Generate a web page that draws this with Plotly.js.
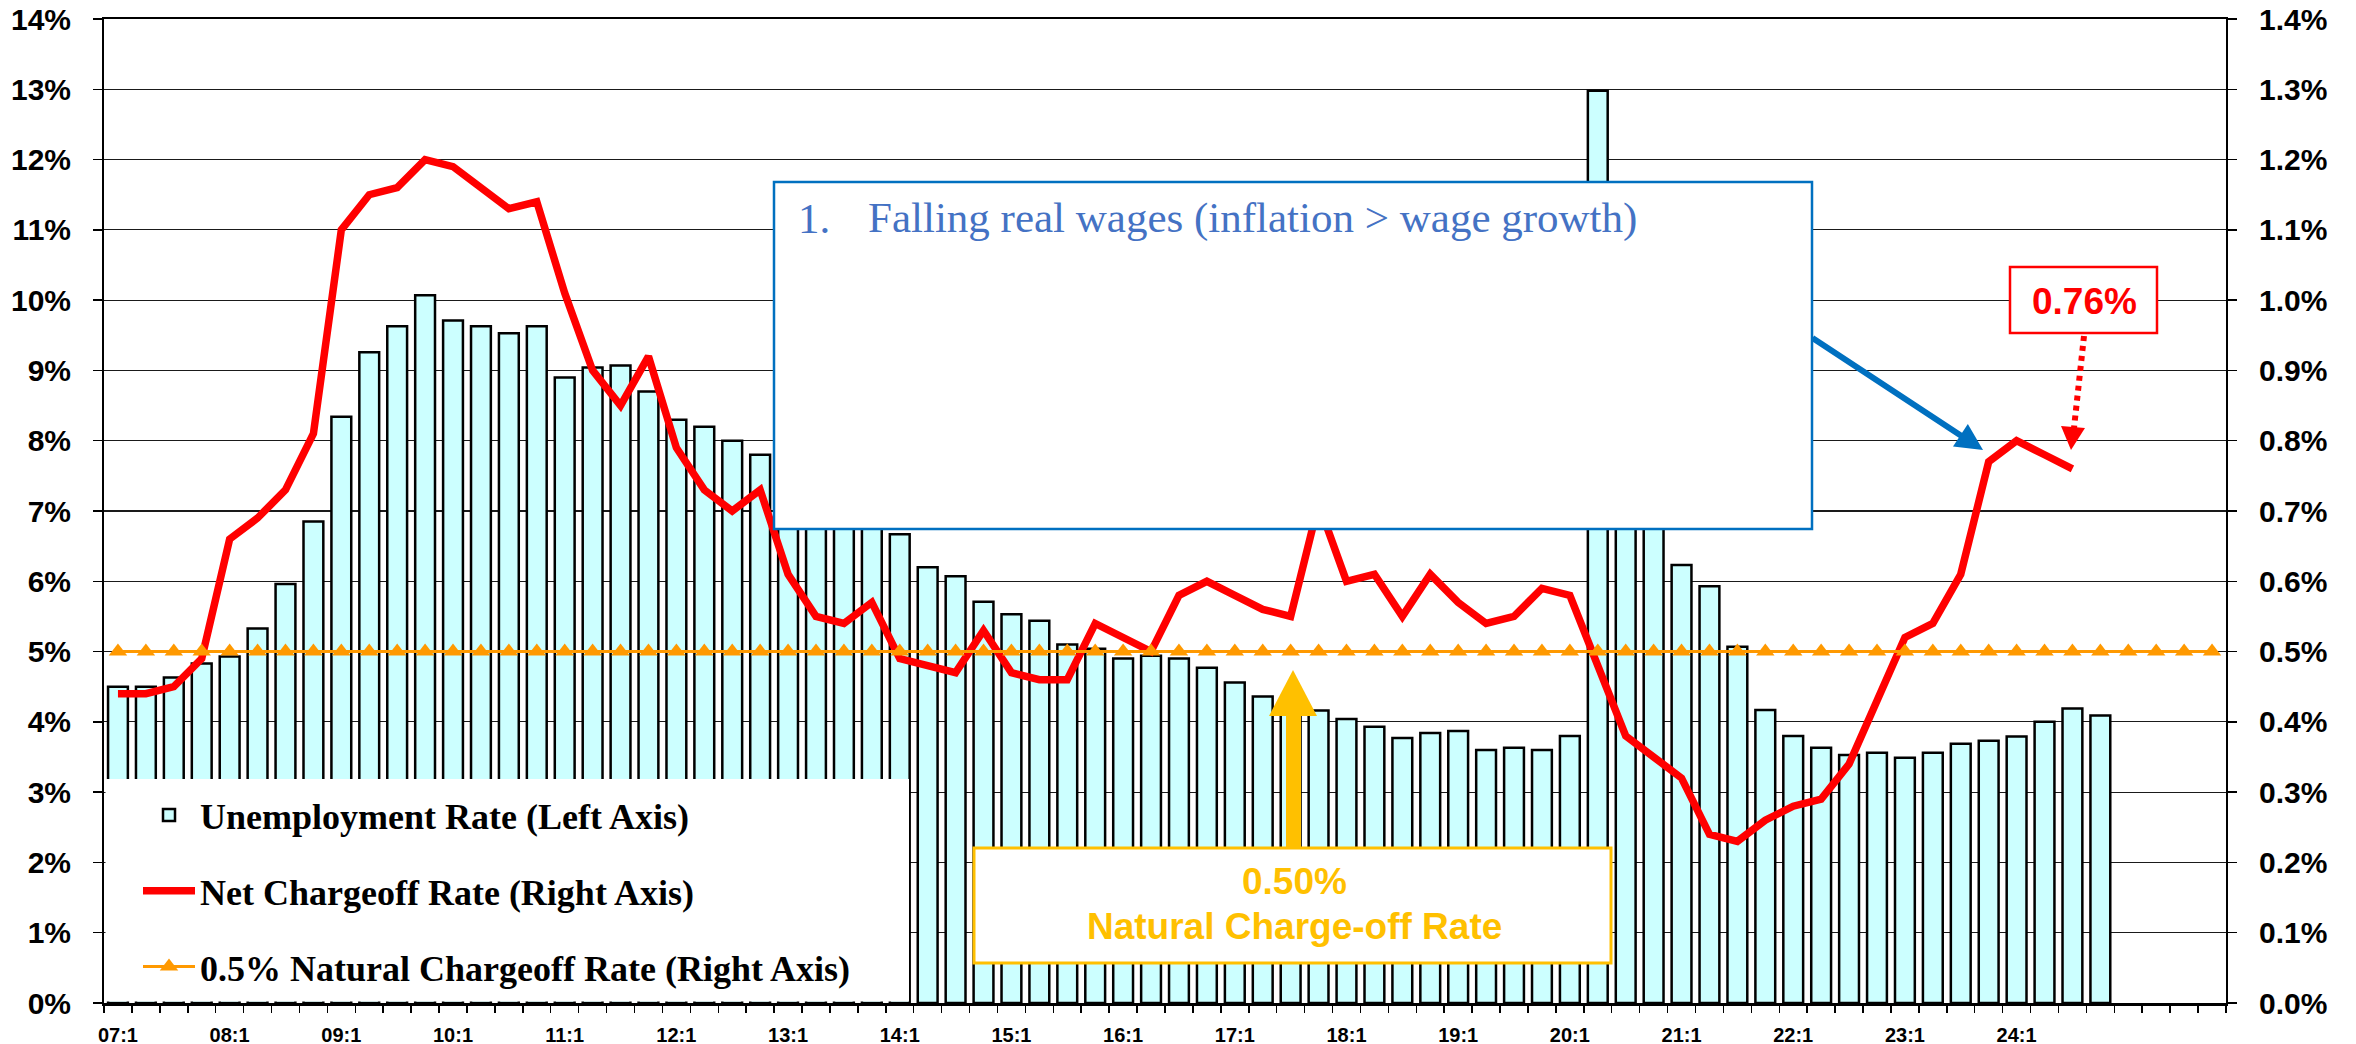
<!DOCTYPE html>
<html>
<head>
<meta charset="utf-8">
<script src="https://cdn.plot.ly/plotly-3.0.1.min.js"></script>
<style>
html, body { margin: 0; padding: 0; background: #ffffff; }
#chart { width: 2356px; height: 1044px; }
</style>
</head>
<body>
<div id="chart"></div>
<script>
// ---------------- DATA ----------------
const categories = [
  "07:1","07:2","07:3","07:4","08:1","08:2","08:3","08:4",
  "09:1","09:2","09:3","09:4","10:1","10:2","10:3","10:4",
  "11:1","11:2","11:3","11:4","12:1","12:2","12:3","12:4",
  "13:1","13:2","13:3","13:4","14:1","14:2","14:3","14:4",
  "15:1","15:2","15:3","15:4","16:1","16:2","16:3","16:4",
  "17:1","17:2","17:3","17:4","18:1","18:2","18:3","18:4",
  "19:1","19:2","19:3","19:4","20:1","20:2","20:3","20:4",
  "21:1","21:2","21:3","21:4","22:1","22:2","22:3","22:4",
  "23:1","23:2","23:3","23:4","24:1","24:2","24:3","24:4",
  "25:1","25:2","25:3","25:4"
];

const tickLabels = [
  "07:1","08:1","09:1","10:1","11:1","12:1","13:1","14:1","15:1",
  "16:1","17:1","18:1","19:1","20:1","21:1","22:1","23:1","24:1"
];

// Unemployment rate, % (left axis)
const unemploymentRate = [
  4.50, 4.50, 4.63, 4.83,
  4.93, 5.33, 5.96, 6.85,
  8.34, 9.26, 9.63, 10.07,
  9.71, 9.63, 9.53, 9.63,
  8.90, 9.04, 9.07, 8.70,
  8.30, 8.20, 8.00, 7.80,
  7.73, 7.53, 7.23, 6.93,
  6.67, 6.20, 6.07, 5.71,
  5.53, 5.44, 5.10, 5.04,
  4.90, 4.94, 4.90, 4.77,
  4.56, 4.36, 4.30, 4.16,
  4.04, 3.93, 3.77, 3.84,
  3.87, 3.60, 3.63, 3.60,
  3.80, 12.98, 8.80, 6.77,
  6.23, 5.93, 5.07, 4.17,
  3.80, 3.63, 3.53, 3.56,
  3.49, 3.56, 3.69, 3.73,
  3.79, 4.00, 4.19, 4.09,
  null, null, null, null
];

// Net charge-off rate, % (right axis)
const netChargeoffRate = [
  0.44, 0.44, 0.45, 0.49,
  0.66, 0.69, 0.73, 0.81,
  1.10, 1.15, 1.16, 1.20,
  1.19, 1.16, 1.13, 1.14,
  1.01, 0.90, 0.85, 0.92,
  0.79, 0.73, 0.70, 0.73,
  0.61, 0.55, 0.54, 0.57,
  0.49, 0.48, 0.47, 0.53,
  0.47, 0.46, 0.46, 0.54,
  0.52, 0.50, 0.58, 0.60,
  0.58, 0.56, 0.55, 0.71,
  0.60, 0.61, 0.55, 0.61,
  0.57, 0.54, 0.55, 0.59,
  0.58, 0.48, 0.38, 0.35,
  0.32, 0.24, 0.23, 0.26,
  0.28, 0.29, 0.34, 0.43,
  0.52, 0.54, 0.61, 0.77,
  0.80, 0.78, 0.76, null,
  null, null, null, null
];

// 0.5% natural charge-off rate, % (right axis)
const naturalChargeoffRate = [
  0.5, 0.5, 0.5, 0.5, 0.5, 0.5, 0.5, 0.5,
  0.5, 0.5, 0.5, 0.5, 0.5, 0.5, 0.5, 0.5,
  0.5, 0.5, 0.5, 0.5, 0.5, 0.5, 0.5, 0.5,
  0.5, 0.5, 0.5, 0.5, 0.5, 0.5, 0.5, 0.5,
  0.5, 0.5, 0.5, 0.5, 0.5, 0.5, 0.5, 0.5,
  0.5, 0.5, 0.5, 0.5, 0.5, 0.5, 0.5, 0.5,
  0.5, 0.5, 0.5, 0.5, 0.5, 0.5, 0.5, 0.5,
  0.5, 0.5, 0.5, 0.5, 0.5, 0.5, 0.5, 0.5,
  0.5, 0.5, 0.5, 0.5, 0.5, 0.5, 0.5, 0.5,
  0.5, 0.5, 0.5, 0.5
];

const seriesNames = [
  "Unemployment Rate (Left Axis)",
  "Net Chargeoff Rate (Right Axis)",
  "0.5% Natural Chargeoff Rate (Right Axis)"
];

const calloutTexts = {
  boxNumber: "1.",
  boxText: "Falling real wages (inflation &gt; wage growth)",
  latest: "0.76%",
  naturalValue: "0.50%",
  naturalLabel: "Natural Charge-off Rate"
};

// ---------------- LAYOUT HELPERS ----------------
const FONT_SANS = "Liberation Sans, Arial, sans-serif";
const FONT_SERIF = "Liberation Serif, Times New Roman, serif";
const W = 2356, H = 1044;
const M = { l: 104, r: 130, t: 19, b: 41 };
const PW = W - M.l - M.r;
const PH = H - M.t - M.b;
const px = (x) => (x - M.l) / PW;          // pixel x -> paper
const py = (y) => (H - M.b - y) / PH;      // pixel y -> paper

const xIdx = categories.map((c, i) => i);
const tickVals = tickLabels.map((t) => categories.indexOf(t));

const tickFont = { family: FONT_SANS, size: 30, weight: "bold", color: "#000000" };

const traces = [
  {
    type: "bar",
    name: seriesNames[0],
    x: xIdx,
    y: unemploymentRate,
    width: 0.71,
    marker: { color: "#CCFFFF", line: { color: "#000000", width: 2.5 } },
    legendgroup: "g1",
    hoverinfo: "skip"
  },
  {
    type: "scatter",
    mode: "lines",
    name: seriesNames[1],
    x: xIdx,
    y: netChargeoffRate,
    yaxis: "y2",
    line: { color: "#FF0000", width: 7.5 },
    legendgroup: "g2",
    hoverinfo: "skip"
  },
  {
    type: "scatter",
    mode: "lines+markers",
    name: seriesNames[2],
    x: xIdx,
    y: naturalChargeoffRate,
    yaxis: "y2",
    line: { color: "#FF9900", width: 3 },
    marker: { symbol: "triangle-up", size: 16, color: "#FF9900" },
    legendgroup: "g3",
    hoverinfo: "skip"
  }
];

const shapes = [
  // legend background
  { type: "rect", xref: "paper", yref: "paper", x0: px(105.5), x1: px(909), y0: py(1001.5), y1: py(779),
    fillcolor: "#ffffff", line: { width: 0 }, layer: "above" },
  // blue text box
  { type: "rect", xref: "paper", yref: "paper", x0: px(774), x1: px(1812), y0: py(529), y1: py(182),
    fillcolor: "#ffffff", line: { color: "#0070C0", width: 2.5 }, layer: "above" },
  // orange callout box
  { type: "rect", xref: "paper", yref: "paper", x0: px(974), x1: px(1611), y0: py(963), y1: py(848),
    fillcolor: "#ffffff", line: { color: "#FFC000", width: 3 }, layer: "above" },
  // orange arrow shaft
  { type: "rect", xref: "paper", yref: "paper", x0: px(1286), x1: px(1301), y0: py(848), y1: py(715),
    fillcolor: "#FFC000", line: { width: 0 }, layer: "above" },
  // orange arrow head
  { type: "path", xref: "paper", yref: "paper",
    path: `M ${px(1269)} ${py(716)} L ${px(1317)} ${py(716)} L ${px(1293)} ${py(670)} Z`,
    fillcolor: "#FFC000", line: { width: 0 }, layer: "above" },
  // red callout box
  { type: "rect", xref: "paper", yref: "paper", x0: px(2010), x1: px(2157), y0: py(333), y1: py(267),
    fillcolor: "#ffffff", line: { color: "#FF0000", width: 2.5 }, layer: "above" },
  // red dotted arrow shaft
  { type: "line", xref: "paper", yref: "paper", x0: px(2084), y0: py(336), x1: px(2074), y1: py(428),
    line: { color: "#FF0000", width: 6, dash: "5px,5px" }, layer: "above" },
  // red arrow head
  { type: "path", xref: "paper", yref: "paper",
    path: `M ${px(2061)} ${py(426)} L ${px(2085)} ${py(428)} L ${px(2071)} ${py(450)} Z`,
    fillcolor: "#FF0000", line: { width: 0 }, layer: "above" }
];

const annotations = [
  { xref: "paper", yref: "paper", x: px(796), y: py(218), xanchor: "left", yanchor: "middle",
    text: calloutTexts.boxNumber, showarrow: false,
    font: { family: FONT_SERIF, size: 43, color: "#4472C4" } },
  { xref: "paper", yref: "paper", x: px(866), y: py(218), xanchor: "left", yanchor: "middle",
    text: calloutTexts.boxText, showarrow: false,
    font: { family: FONT_SERIF, size: 43, color: "#4472C4" } },
  { xref: "paper", yref: "paper", x: px(1983), y: py(450), ax: -172, ay: -113,
    text: "", showarrow: true, arrowhead: 2, arrowsize: 0.9, arrowwidth: 6,
    arrowcolor: "#0070C0", standoff: 0 },
  { xref: "paper", yref: "paper", x: px(2084), y: py(301), xanchor: "center", yanchor: "middle",
    text: calloutTexts.latest, showarrow: false,
    font: { family: FONT_SANS, size: 37, weight: "bold", color: "#FF0000" } },
  { xref: "paper", yref: "paper", x: px(1294), y: py(881), xanchor: "center", yanchor: "middle",
    text: calloutTexts.naturalValue, showarrow: false,
    font: { family: FONT_SANS, size: 37, weight: "bold", color: "#FFC000" } },
  { xref: "paper", yref: "paper", x: px(1294), y: py(926), xanchor: "center", yanchor: "middle",
    text: calloutTexts.naturalLabel, showarrow: false,
    font: { family: FONT_SANS, size: 37, weight: "bold", color: "#FFC000" } }
];

const layout = {
  width: W,
  height: H,
  margin: M,
  paper_bgcolor: "#ffffff",
  plot_bgcolor: "#ffffff",
  showlegend: true,
  hovermode: false,
  legend: {
    x: px(138), y: py(785), xanchor: "left", yanchor: "top",
    bgcolor: "rgba(0,0,0,0)", borderwidth: 0,
    font: { family: FONT_SERIF, size: 36, weight: "bold", color: "#000000" },
    itemwidth: 52, tracegroupgap: 26, traceorder: "grouped"
  },
  xaxis: {
    type: "linear",
    range: [-0.5, 75.5],
    tickmode: "array",
    tickvals: tickVals,
    ticktext: tickLabels,
    ticks: "",
    showgrid: false,
    zeroline: false,
    showline: true,
    linecolor: "#000000",
    linewidth: 2.5,
    mirror: true,
    tickfont: { family: FONT_SANS, size: 20, weight: "bold", color: "#000000" },
    ticklabelstandoff: 12,
    minor: { tickmode: "linear", tick0: -0.5, dtick: 1, ticks: "outside", ticklen: 7,
             tickwidth: 1.5, tickcolor: "#000000", showgrid: false }
  },
  yaxis: {
    range: [0, 14],
    tickmode: "linear", tick0: 0, dtick: 1,
    ticksuffix: "%",
    showgrid: true, gridcolor: "#1a1a1a", gridwidth: 1.2,
    zeroline: false,
    showline: true, linecolor: "#000000", linewidth: 2,
    ticks: "outside", ticklen: 9, tickwidth: 1.5, tickcolor: "#000000",
    tickfont: tickFont,
    ticklabelstandoff: 16
  },
  yaxis2: {
    overlaying: "y", side: "right",
    range: [0, 1.4],
    tickmode: "linear", tick0: 0, dtick: 0.1,
    tickformat: ".1f", ticksuffix: "%",
    showgrid: false, zeroline: false,
    showline: true, linecolor: "#000000", linewidth: 2,
    ticks: "outside", ticklen: 9, tickwidth: 1.5, tickcolor: "#000000",
    tickfont: tickFont,
    ticklabelstandoff: 16
  },
  shapes: shapes,
  annotations: annotations
};

Plotly.newPlot("chart", traces, layout, { staticPlot: true, displayModeBar: false });
</script>
</body>
</html>
